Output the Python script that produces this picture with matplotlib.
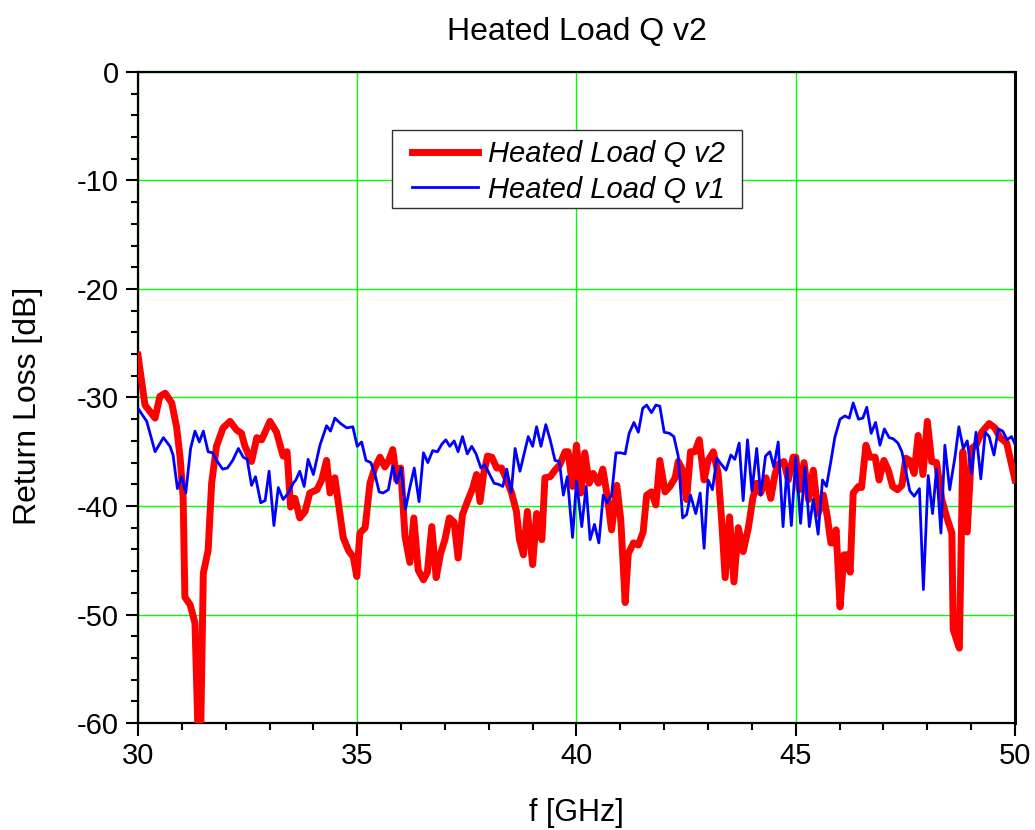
import numpy as np
import matplotlib
matplotlib.use("Agg")
import matplotlib.pyplot as plt
from matplotlib.patches import Rectangle

# Heated Load Q v2 (red, thick)
f_v2 = [30.0, 30.16, 30.39, 30.5, 30.62, 30.77, 30.88, 30.96, 31.03, 31.07, 31.19, 31.3, 31.37,
        31.43, 31.49, 31.6, 31.68, 31.79, 31.94, 32.1, 32.25, 32.36, 32.44, 32.59, 32.71, 32.82,
        33.01, 33.16, 33.31, 33.4, 33.48, 33.58, 33.69, 33.81, 33.92, 34.08, 34.19, 34.3, 34.38,
        34.49, 34.68, 34.8, 34.91, 34.99, 35.06, 35.18, 35.29, 35.4, 35.52, 35.63, 35.71, 35.81,
        35.9, 35.99, 36.09, 36.2, 36.29, 36.39, 36.51, 36.6, 36.7, 36.8, 36.9, 37.0, 37.1, 37.21,
        37.3, 37.4, 37.53, 37.63, 37.72, 37.8, 37.88, 37.97, 38.07, 38.18, 38.29, 38.41, 38.52,
        38.63, 38.7, 38.79, 38.88, 39.0, 39.09, 39.21, 39.28, 39.4, 39.51, 39.62, 39.74, 39.81,
        39.91, 40.0, 40.1, 40.19, 40.29, 40.38, 40.5, 40.6, 40.69, 40.8, 40.92, 41.01, 41.11,
        41.18, 41.3, 41.41, 41.52, 41.6, 41.71, 41.81, 41.9, 42.02, 42.13, 42.25, 42.32, 42.42,
        42.51, 42.6, 42.7, 42.8, 42.91, 43.0, 43.12, 43.23, 43.31, 43.39, 43.49, 43.59, 43.69,
        43.8, 43.92, 44.02, 44.11, 44.2, 44.32, 44.43, 44.53, 44.62, 44.73, 44.83, 44.94, 45.0,
        45.08, 45.19, 45.29, 45.4, 45.51, 45.63, 45.72, 45.8, 45.86, 45.92, 46.01, 46.1, 46.18,
        46.24, 46.31, 46.43, 46.5, 46.6, 46.69, 46.81, 46.9, 47.01, 47.11, 47.21, 47.32, 47.42,
        47.51, 47.6, 47.7, 47.79, 47.9, 48.0, 48.1, 48.21, 48.33, 48.44, 48.56, 48.59, 48.73,
        48.81, 48.91, 49.01, 49.11, 49.24, 49.41, 49.54, 49.66, 49.81, 50.0]
rl_v2 = [-26.1, -30.7, -31.9, -29.9, -29.6, -30.5, -32.7, -35.5, -39.2, -48.4, -49.1, -50.8, -61.0,
         -61.0, -46.2, -44.1, -37.9, -34.5, -32.8, -32.2, -33.0, -33.3, -34.5, -35.9, -33.7, -33.9,
         -32.2, -33.2, -35.4, -35.0, -40.1, -39.3, -41.1, -40.5, -38.8, -38.5, -37.6, -35.8, -38.8,
         -37.4, -42.9, -44.1, -44.7, -46.5, -42.5, -42.0, -37.9, -36.5, -35.5, -36.4, -35.9, -34.8,
         -37.6, -36.5, -42.8, -45.2, -41.1, -45.9, -46.8, -46.1, -41.9, -46.6, -44.4, -43.1, -41.1,
         -41.5, -44.8, -40.8, -39.4, -38.4, -37.1, -39.6, -37.1, -35.4, -35.5, -36.5, -36.5, -37.6,
         -38.8, -40.5, -43.1, -44.5, -40.5, -45.4, -40.7, -43.1, -37.4, -37.3, -36.7, -36.2, -35.0,
         -35.0, -38.2, -34.4, -38.8, -35.1, -37.9, -37.0, -37.9, -36.6, -38.8, -42.2, -38.1, -41.3,
         -48.9, -44.4, -43.4, -43.6, -42.4, -39.0, -38.7, -39.9, -35.8, -38.7, -38.2, -37.4, -35.9,
         -36.7, -39.4, -35.0, -35.0, -33.9, -37.6, -35.8, -35.0, -37.0, -41.3, -46.6, -41.0, -47.0,
         -42.0, -44.2, -42.0, -39.3, -37.9, -38.8, -37.4, -39.3, -37.0, -36.1, -35.9, -37.6, -35.5,
         -35.5, -38.5, -36.0, -39.4, -36.7, -40.7, -39.0, -41.0, -43.4, -43.4, -42.2, -49.3, -44.5,
         -44.5, -46.1, -38.8, -38.2, -38.3, -34.4, -35.5, -35.5, -37.6, -35.8, -36.7, -38.2, -38.5,
         -38.1, -35.6, -35.8, -37.0, -33.5, -37.1, -32.2, -35.9, -36.0, -39.4, -41.0, -42.5, -51.4,
         -53.1, -35.0, -42.4, -34.7, -34.4, -33.2, -32.4, -32.8, -33.7, -34.2, -37.6]

# Heated Load Q v1 (blue, thin)
f_v1 = [30.0, 30.2, 30.39, 30.58, 30.73, 30.8, 30.9, 31.0, 31.09, 31.2, 31.3, 31.4, 31.49, 31.6,
        31.7, 31.81, 31.93, 32.04, 32.16, 32.29, 32.4, 32.49, 32.59, 32.68, 32.8, 32.9, 32.99,
        33.1, 33.2, 33.31, 33.43, 33.54, 33.6, 33.69, 33.79, 33.88, 34.0, 34.15, 34.3, 34.39,
        34.49, 34.62, 34.76, 34.9, 35.0, 35.1, 35.2, 35.31, 35.4, 35.5, 35.59, 35.71, 35.81, 35.9,
        36.0, 36.1, 36.2, 36.3, 36.41, 36.51, 36.61, 36.72, 36.83, 36.93, 37.02, 37.11, 37.21,
        37.3, 37.4, 37.51, 37.61, 37.71, 37.82, 37.91, 38.01, 38.12, 38.22, 38.32, 38.41, 38.51,
        38.6, 38.71, 38.8, 38.9, 39.0, 39.09, 39.19, 39.3, 39.4, 39.51, 39.61, 39.7, 39.79, 39.91,
        40.0, 40.12, 40.22, 40.31, 40.41, 40.51, 40.61, 40.7, 40.8, 40.9, 41.01, 41.11, 41.2,
        41.31, 41.41, 41.51, 41.6, 41.71, 41.81, 41.9, 42.0, 42.12, 42.22, 42.32, 42.42, 42.51,
        42.6, 42.72, 42.82, 42.91, 43.0, 43.1, 43.2, 43.31, 43.41, 43.52, 43.61, 43.71, 43.8, 43.9,
        44.0, 44.11, 44.2, 44.31, 44.41, 44.5, 44.6, 44.71, 44.8, 44.9, 45.0, 45.11, 45.21, 45.31,
        45.4, 45.51, 45.61, 45.7, 45.8, 45.89, 46.01, 46.12, 46.22, 46.31, 46.43, 46.53, 46.62,
        46.72, 46.82, 46.92, 47.02, 47.13, 47.22, 47.33, 47.42, 47.51, 47.6, 47.7, 47.82, 47.91,
        48.02, 48.12, 48.21, 48.31, 48.4, 48.51, 48.63, 48.72, 48.82, 48.91, 49.01, 49.11, 49.22,
        49.32, 49.41, 49.52, 49.62, 49.72, 49.82, 49.92, 50.0]
rl_v1 = [-31.0, -32.2, -35.0, -33.7, -34.5, -35.3, -38.4, -37.3, -38.8, -34.7, -33.1, -34.1, -33.1,
         -35.0, -35.1, -35.9, -36.6, -36.5, -35.8, -34.7, -35.5, -35.7, -38.1, -37.3, -39.7, -39.5,
         -36.8, -41.8, -38.3, -39.4, -38.8, -37.9, -37.6, -36.8, -38.2, -35.7, -37.1, -34.4, -32.6,
         -33.1, -31.9, -32.4, -32.8, -32.7, -34.5, -34.1, -35.8, -36.0, -37.0, -38.7, -38.8, -38.5,
         -36.3, -37.9, -36.5, -40.3, -38.3, -36.5, -39.6, -35.1, -36.0, -34.9, -35.0, -34.3, -33.9,
         -34.5, -34.0, -35.0, -33.6, -35.2, -34.5, -35.2, -36.5, -36.2, -37.0, -37.9, -38.0, -38.2,
         -36.6, -38.8, -34.7, -36.8, -35.3, -33.6, -34.5, -32.7, -34.5, -32.5, -33.9, -35.8, -35.9,
         -39.0, -37.3, -42.9, -37.7, -41.9, -38.2, -43.1, -41.7, -43.4, -39.0, -39.7, -39.0, -35.1,
         -35.1, -35.2, -33.3, -32.3, -33.2, -31.0, -30.7, -31.4, -30.7, -30.8, -33.2, -33.3, -33.6,
         -35.4, -41.1, -40.8, -39.0, -40.7, -38.8, -43.9, -37.6, -38.5, -35.6, -36.2, -36.7, -35.3,
         -35.7, -34.2, -39.5, -33.9, -38.6, -34.7, -39.0, -35.4, -35.0, -36.4, -34.1, -41.9, -36.5,
         -41.8, -35.5, -41.6, -36.4, -41.9, -39.4, -42.6, -37.6, -38.2, -35.9, -33.7, -32.0, -31.7,
         -31.9, -30.5, -32.0, -31.9, -30.9, -33.3, -32.3, -34.4, -32.9, -33.7, -33.8, -34.2, -35.0,
         -36.8, -38.6, -39.1, -38.4, -47.7, -37.2, -40.7, -36.6, -42.5, -34.4, -38.5, -35.5, -32.7,
         -34.7, -34.0, -37.0, -33.2, -37.5, -33.2, -33.6, -35.3, -32.9, -33.1, -33.9, -33.6, -34.3]

plt.rcParams['font.family'] = ['Liberation Sans', 'DejaVu Sans']
plt.rcParams['axes.unicode_minus'] = False

fig = plt.figure(figsize=(10.35, 8.3), dpi=100)
ax = fig.add_axes([0.1333, 0.1289, 0.8474, 0.7844])

ax.plot(f_v2, rl_v2, color="#ff0000", lw=5.0, label="Heated Load Q v2",
        solid_joinstyle="round", zorder=3)
ax.plot(f_v1, rl_v1, color="#0000ff", lw=2.0, label="Heated Load Q v1", zorder=4)

ax.set_xlim(30, 50)
ax.set_ylim(-60, 0)
ax.set_xticks(np.arange(30, 51, 5))
ax.set_xticks(np.arange(30, 51, 1), minor=True)
ax.set_yticks(np.arange(-60, 1, 10))
ax.set_yticks(np.arange(-60, 1, 2), minor=True)
ax.grid(True, which="major", color="#00ff00", lw=1.0)
ax.set_axisbelow(True)

ax.tick_params(which="major", direction="out", length=9, width=1.5, labelsize=21,
               top=False, right=False, pad=5)
ax.tick_params(which="minor", direction="out", length=5, width=1.5, top=False, right=False)
for s in ax.spines.values():
    s.set_linewidth(1.6)
ax.spines["right"].set_linewidth(2.2)

ax.set_xlabel("f [GHz]", fontsize=22, labelpad=20)
ax.set_ylabel("Return Loss [dB]", fontsize=23)
ax.yaxis.set_label_coords(-0.108, 0.487)
ax.set_title("Heated Load Q v2", fontsize=23, pad=23)

# legend box drawn separately to get the wider side padding
ax.add_patch(Rectangle((0.2896, 0.791), 0.3991, 0.12, transform=ax.transAxes,
                       facecolor="white", edgecolor="#303030", lw=1.0, zorder=5))
leg = ax.legend(loc="upper left", bbox_to_anchor=(0.3124, 0.895), borderaxespad=0,
                frameon=False, prop={"style": "italic", "size": 21},
                handlelength=2.25, borderpad=0, labelspacing=0.25, handletextpad=0.35)
leg.set_zorder(6)

fig.savefig("out.png", dpi=100)
